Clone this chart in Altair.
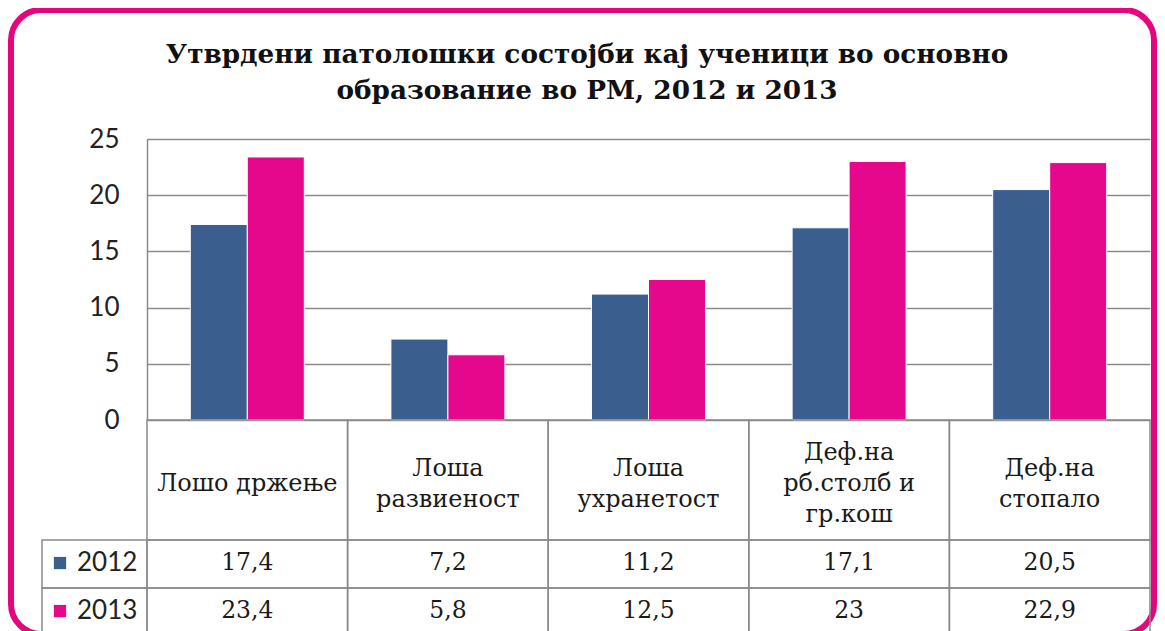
import altair as alt
import pandas as pd

categories = ["Лошо држење", "Лоша\nразвиеност", "Лоша\nухранетост",
              "Деф.на\nрб.столб и\nгр.кош", "Деф.на\nстопало"]
years = ["2012", "2013"]
values_2012 = [17.4, 7.2, 11.2, 17.1, 20.5]
values_2013 = [23.4, 5.8, 12.5, 23, 22.9]
y_ticks = [0, 5, 10, 15, 20, 25]
colors = ["#3A5F8F", "#E5078C"]
title_lines = ["Утврдени патолошки состојби кај ученици во основно",
               "образование во РМ, 2012 и 2013"]


def fmt(v):
    return ("%g" % v).replace(".", ",")


series = {"2012": values_2012, "2013": values_2013}

bar_rows = []
for y in years:
    for c, v in zip(categories, series[y]):
        bar_rows.append({"cat": c, "year": y, "value": v})
bars_df = pd.DataFrame(bar_rows)

# table layout in "row units": header is 2.5 units tall, each value row 1 unit
W, H = 1003, 281
ROW_PX = 48
LINE_PX = 31
HEADER = 2.5
head_df = pd.DataFrame([{"cat": c, "r0": 0, "r1": HEADER,
                         "mid": HEADER / 2 - (c.count("\n")) * LINE_PX / 2 / ROW_PX + 0.09,
                         "label": c}
                        for c in categories])
cell_rows = []
for i, y in enumerate(years):
    for c, v in zip(categories, series[y]):
        cell_rows.append({"cat": c, "year": y, "r0": HEADER + i, "r1": HEADER + i + 1,
                          "mid": HEADER + i + 0.48, "label": fmt(v)})
cells_df = pd.DataFrame(cell_rows)
leg_df = pd.DataFrame([{"year": y, "r0": HEADER + i, "r1": HEADER + i + 1,
                        "mid": HEADER + i + 0.48} for i, y in enumerate(years)])

tab_scale = alt.Scale(domain=[0, HEADER + 2], range=[H, H + (HEADER + 2) * ROW_PX], nice=False)
x_enc = alt.X("cat:N", sort=categories, axis=None,
              scale=alt.Scale(paddingInner=0, paddingOuter=0))
color_scale = alt.Scale(domain=years, range=colors)
grid_col = "#8a8a8a"
serif = "DejaVu Serif"

frame = alt.Chart(pd.DataFrame({"k": [0]})).mark_rect(
    filled=False, stroke="#E4057F", strokeWidth=6, cornerRadius=30
).encode(x=alt.value(-136), x2=alt.value(1007), y=alt.value(-129), y2=alt.value(495))

title = alt.Chart(pd.DataFrame({"t": ["\n".join(title_lines)]})).mark_text(
    font=serif, fontSize=26.3, fontWeight="bold", color="#111", lineBreak="\n",
    lineHeight=36, align="center", baseline="alphabetic"
).encode(x=alt.value(440), y=alt.value(-76), text="t:N")

bars = alt.Chart(bars_df).mark_bar(stroke="white", strokeWidth=1).encode(
    x=x_enc,
    xOffset=alt.XOffset("year:N", scale=alt.Scale(domain=years, paddingInner=0, paddingOuter=0.76)),
    y=alt.Y("value:Q", scale=alt.Scale(domain=[0, 25], nice=False),
            axis=alt.Axis(values=y_ticks, title=None, ticks=False, grid=True,
                          gridColor=grid_col, gridWidth=1.5, domainColor=grid_col,
                          domainWidth=1.5, labelFont="Lato", labelFontSize=26,
                          labelColor="#222", labelPadding=28)),
    color=alt.Color("year:N", scale=color_scale, legend=None),
)

cells_rect = alt.Chart(pd.concat([head_df, cells_df])).mark_rect(
    filled=False, stroke=grid_col, strokeWidth=1.5
).encode(x=x_enc, y=alt.Y("r0:Q", scale=tab_scale, axis=None), y2="r1:Q")

head_text = alt.Chart(head_df).mark_text(
    font=serif, fontSize=24, lineBreak="\n", lineHeight=LINE_PX, color="#1a1a1a", baseline="middle"
).encode(x=x_enc, y=alt.Y("mid:Q", scale=tab_scale, axis=None), text="label:N")

cell_text = alt.Chart(cells_df).mark_text(
    font=serif, fontSize=23.5, color="#1a1a1a", baseline="middle"
).encode(x=x_enc, y=alt.Y("mid:Q", scale=tab_scale, axis=None), text="label:N")

leg_rect = alt.Chart(leg_df).mark_rect(
    filled=False, stroke=grid_col, strokeWidth=1.5
).encode(x=alt.value(-105), x2=alt.value(0),
         y=alt.Y("r0:Q", scale=tab_scale, axis=None), y2="r1:Q")

leg_sym = alt.Chart(leg_df).mark_point(shape="square", filled=True, size=150, opacity=1).encode(
    x=alt.value(-87), y=alt.Y("mid:Q", scale=tab_scale, axis=None),
    color=alt.Color("year:N", scale=color_scale, legend=None))

leg_text = alt.Chart(leg_df).mark_text(
    font="Lato", fontSize=26, color="#222", align="left", baseline="middle"
).encode(x=alt.value(-70), y=alt.Y("mid:Q", scale=tab_scale, axis=None), text="year:N")

chart = alt.layer(
    frame, title, bars, cells_rect, head_text, cell_text, leg_rect, leg_sym, leg_text
).resolve_scale(y="independent", color="shared").properties(
    width=W, height=H,
    autosize=alt.AutoSizeParams(type="none"),
    padding={"left": 139, "top": 131, "right": 7, "bottom": 211},
).configure_view(stroke="transparent")

chart.save("out.html", embed_options={"renderer": "svg", "actions": False})
